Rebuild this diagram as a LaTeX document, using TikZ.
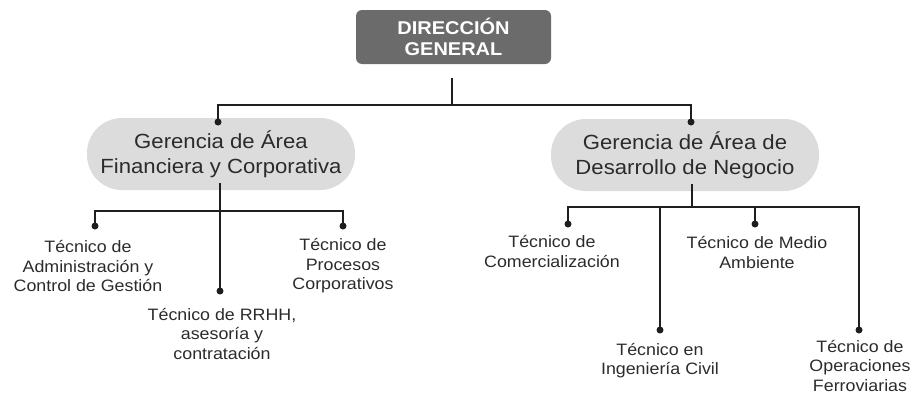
\documentclass[tikz,border=0pt]{standalone}
\usepackage{fontspec}
\setmainfont{Liberation Sans}[FakeStretch=1.08]
\definecolor{topgray}{HTML}{6B6B6B}
\definecolor{pillgray}{HTML}{DCDCDC}
\definecolor{ink}{HTML}{2B2B2B}
\definecolor{linec}{HTML}{1E1E1E}
\begin{document}
\begin{tikzpicture}[x=1pt,y=-1pt,
  conn/.style={draw=linec, line width=1.8pt},
  dot/.style={circle, fill=linec, inner sep=0pt, minimum size=7pt},
  lbl/.style={align=center, text=ink, font=\fontsize{16.5}{19.5}\selectfont, inner sep=0pt},
  pill/.style={fill=pillgray, rounded corners=35pt, minimum width=268pt, minimum height=72pt, align=center, font=\fontsize{20.5}{25}\selectfont, text=ink, inner sep=0pt},
  topbox/.style={fill=topgray, rounded corners=6pt, minimum width=195pt, minimum height=54pt, text=white, font=\bfseries\fontsize{18.5}{21}\selectfont, align=center, inner sep=0pt}]
\useasboundingbox (0,0) rectangle (914,394);

% nodes
\node[topbox] (dg) at (453.5,37) {DIRECCIÓN\\GENERAL};
\node[pill] (gL) at (221,154) {Gerencia de Área\\Financiera y Corporativa};
\node[pill] (gR) at (685,155) {Gerencia de Área de\\Desarrollo de Negocio};

\node[lbl] (tAdm) at (88,266.5) {Técnico de\\Administración y\\Control de Gestión};
\node[lbl] (tProc) at (343,266) {Técnico de\\Procesos\\Corporativos};
\node[lbl] (tRRHH) at (222,334) {Técnico de RRHH,\\asesoría y\\contratación};
\node[lbl] (tCom) at (552,251.5) {Técnico de\\Comercialización};
\node[lbl] (tMed) at (757,252.5) {Técnico de Medio\\Ambiente};
\node[lbl] (tCiv) at (660,360.5) {Técnico en\\Ingeniería Civil};
\node[lbl] (tFer) at (860,366) {Técnico de\\Operaciones\\Ferroviarias};

% dots
\node[dot] (dL) at (218,122) {};
\node[dot] (dR) at (691,122) {};
\node[dot] (dAdm) at (95,226) {};
\node[dot] (dProc) at (343,226) {};
\node[dot] (dRRHH) at (220,291) {};
\node[dot] (dCom) at (568,224) {};
\node[dot] (dMed) at (755,224) {};
\node[dot] (dCiv) at (660,330) {};
\node[dot] (dFer) at (859,330) {};

% junctions
\coordinate (dgs) at (452,78);
\coordinate (j1) at (452,105);
\coordinate (gLs) at (220,183);
\coordinate (j2) at (220,211);
\coordinate (gRs) at (692,184);
\coordinate (j3) at (692,207);

% connectors
\draw[conn] (dgs) -- (j1);
\draw[conn] (dL.center) |- (j1) -| (dR.center);
\draw[conn] (gLs) -- (dRRHH.center);
\draw[conn] (dAdm.center) |- (j2) -| (dProc.center);
\draw[conn] (gRs) -- (j3);
\draw[conn] (dCom.center) |- (j3) -| (dFer.center);
\draw[conn] (dCiv.center) -- (dCiv.center |- j3);
\draw[conn] (dMed.center) -- (dMed.center |- j3);
\end{tikzpicture}
\end{document}
